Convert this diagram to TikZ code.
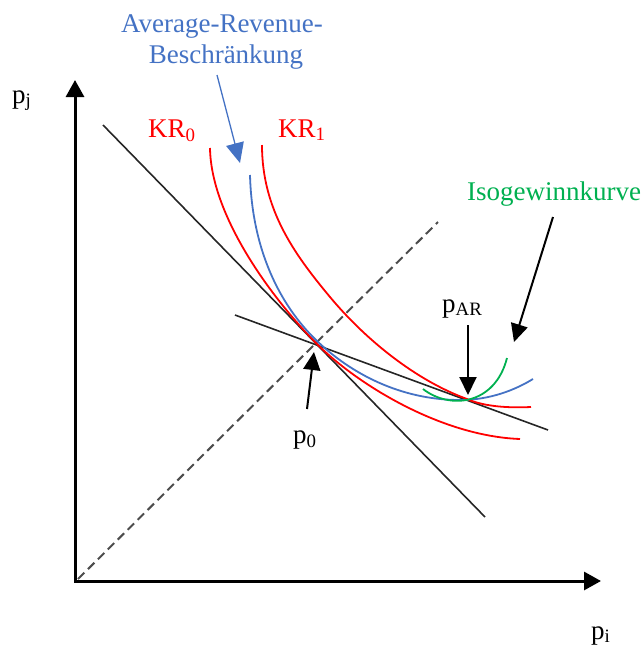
\documentclass[tikz,border=0pt]{standalone}
\usepackage{fontspec}
\setmainfont{Liberation Serif}
\usetikzlibrary{arrows.meta}
\definecolor{arblue}{RGB}{68,114,196}
\definecolor{isogreen}{RGB}{0,176,80}
\definecolor{krred}{RGB}{255,0,0}
\begin{document}
\begin{tikzpicture}[x=1pt,y=-1pt,
  lab/.style={inner sep=0pt, font=\fontsize{27}{32}\selectfont, anchor=base west},
  axisline/.style={line width=3pt, {Triangle[length=17pt,width=18pt]}-{Triangle[length=17pt,width=18pt]}},
  tanline/.style={line width=1.6pt, black!85},
  dashline/.style={line width=2pt, black!70, dash pattern=on 9pt off 5pt},
  curve/.style={line width=1.8pt},
  pointer/.style={line width=2pt, -{Triangle[length=18pt,width=17pt]}},
  bluepointer/.style={line width=1.3pt, arblue, -{Triangle[length=20pt,width=18pt]}}]
\path[use as bounding box] (0,0) rectangle (644,646);

% axes
\coordinate (ytip) at (75,80);
\coordinate (origin) at (75,581);
\coordinate (xtip) at (601,581);
\draw[axisline] (ytip) -- (origin) -- (xtip);

% straight lines
\coordinate (dA) at (78,579);
\coordinate (dB) at (438,222);
\draw[dashline] (dA) -- (dB);
\coordinate (sA) at (103,125);
\coordinate (sB) at (485,517);
\draw[tanline] (sA) -- (sB);
\coordinate (hA) at (235,315);
\coordinate (hB) at (548,430);
\draw[tanline] (hA) -- (hB);

% points
\coordinate (p0) at (315,342);
\coordinate (pAR) at (467,399);

% curves
\draw[curve, krred] (210,148) .. controls (211,215) and (270,296) .. (p0)
  .. controls (355,383) and (440,436) .. (520,439);
\draw[curve, arblue] (250,175) .. controls (252,250) and (280,305) .. (316,340)
  .. controls (350,373) and (400,400) .. (460,400)
  .. controls (490,400) and (515,390) .. (533,379);
\draw[curve, krred] (262,145) .. controls (262,210) and (295,255) .. (330,297)
  .. controls (365,339) and (415,380) .. (pAR)
  .. controls (485,407) and (510,408) .. (531,407);
\draw[curve, isogreen] (423,389) .. controls (450,410) and (495,405) .. (507,358);

% labels
\node[lab, anchor=base] (arlab1) at (222,32) {\textcolor{arblue}{Average-Revenue-}};
\node[lab, anchor=base] (arlab2) at (226,63) {\textcolor{arblue}{Beschränkung}};
\node[lab, text=krred] (kr0lab) at (148,137) {KR\textsubscript{0}};
\node[lab, text=krred] (kr1lab) at (278,137) {KR\textsubscript{1}};
\node[lab, text=isogreen] (isolab) at (467,200) {Isogewinnkurve};
\node[lab] (parlab) at (442,312) {p\textsubscript{AR}};
\node[lab] (p0lab) at (293,443) {p\textsubscript{0}};
\node[lab] (pjlab) at (12,103) {p\textsubscript{j}};
\node[lab] (pilab) at (591,639) {p\textsubscript{i}};

% pointers
\coordinate (bA) at (217,75);
\coordinate (bB) at (240,163);
\draw[bluepointer] (bA) -- (bB);
\coordinate (parA) at (468,325);
\coordinate (parB) at (468,395);
\draw[pointer] (parA) -- (parB);
\coordinate (isoA) at (553,217);
\coordinate (isoB) at (514,342);
\draw[pointer] (isoA) -- (isoB);
\coordinate (pzA) at (307,409);
\coordinate (pzB) at (314,352);
\draw[pointer] (pzA) -- (pzB);
\end{tikzpicture}
\end{document}
